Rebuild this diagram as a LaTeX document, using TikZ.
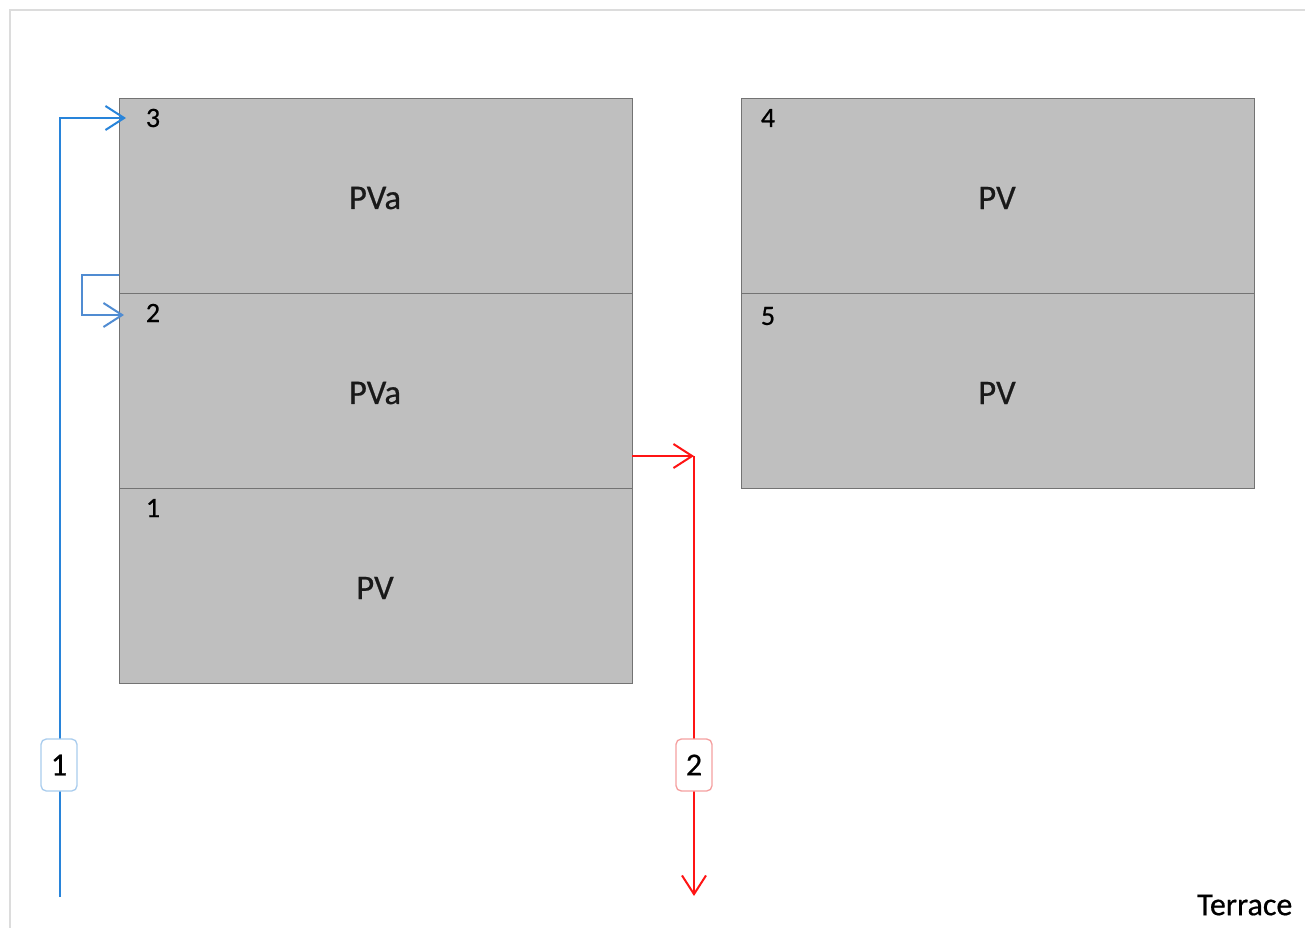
\documentclass[tikz,border=0pt]{standalone}
\usepackage{fontspec}
\setmainfont{Carlito}[FakeBold=0.6]
\usetikzlibrary{arrows.meta,calc}
\definecolor{cellfill}{RGB}{191,191,191}
\definecolor{cellline}{RGB}{115,115,115}
\definecolor{flowblue}{RGB}{40,132,218}
\definecolor{flowblue2}{RGB}{80,140,210}
\definecolor{lblblue}{RGB}{170,205,238}
\definecolor{flowred}{RGB}{255,20,20}
\definecolor{lblred}{RGB}{245,160,160}
\definecolor{framegray}{RGB}{220,220,220}
\tikzset{
  cell/.style={draw=cellline, line width=1pt, fill=cellfill, minimum width=513*0.75pt, minimum height=195*0.75pt, inner sep=0pt, anchor=north west},
  cellnum/.style={font=\fontsize{21}{25}\selectfont, text=black, anchor=center},
  celltext/.style={font=\fontsize{26}{30}\selectfont, text=black!90},
  tip/.style={-{Straight Barb[length=14pt,width=18pt,line width=1.5pt]}},
  bluearrow/.style={draw=flowblue, line width=1.7pt},
  bluearrow2/.style={draw=flowblue2, line width=1.4pt},
  redarrow/.style={draw=flowred, line width=1.6pt},
  flowlabel/.style={fill=white, rounded corners=4pt, line width=1pt, minimum width=36*0.75pt, minimum height=52*0.75pt, inner sep=0pt, font=\fontsize{24}{28}\selectfont},
}
\begin{document}
\begin{tikzpicture}[x=0.75pt,y=-0.75pt]
\useasboundingbox (0,0) rectangle (1307,928);
\fill[white] (0,0) rectangle (1307,928);
\draw[framegray, line width=1.5pt] (10,928) -- (10,10) -- (1305,10);
% left column
\node[cell] (c3) at (119,98) {};
\node[cell] (c2) at (119,293) {};
\node[cell] (c1) at (119,488) {};
% right column
\node[cell] (c4) at (741,98) {};
\node[cell] (c5) at (741,293) {};
% numbers
\node[cellnum] (n3) at (153,118) {3};
\node[cellnum] (n2) at (153,313) {2};
\node[cellnum] (n1) at (153,508) {1};
\node[cellnum] (n4) at (768,118) {4};
\node[cellnum] (n5) at (768,316) {5};
% labels
\node[celltext] (t3) at (375,198) {PVa};
\node[celltext] (t2) at (375,393) {PVa};
\node[celltext] (t1) at (375,588) {PV};
\node[celltext] (t4) at (997,198) {PV};
\node[celltext] (t5) at (997,393) {PV};
% blue flow 1
\coordinate (bstart) at (60,897);
\coordinate (bend) at (126,118);
\draw[bluearrow, tip] (bstart) |- (bend);
\node[flowlabel, draw=lblblue] (l1) at (59,765) {1};
% blue flow 2
\coordinate (b2start) at (119,275);
\coordinate (b2mid) at (82,275);
\coordinate (b2end) at (124,315);
\draw[bluearrow2, tip] (b2start) -- (b2mid) |- (b2end);
% red flow
\coordinate (rstart) at (632,456);
\coordinate (rcorner) at (694,456);
\coordinate (rend) at (694,896);
\draw[redarrow, tip] (rstart) -- (rcorner);
\draw[redarrow, tip] (rcorner) -- (rend);
\node[flowlabel, draw=lblred] (l2) at (694,765) {2};
% terrace
\node[font=\fontsize{24}{28}\selectfont, anchor=east] (terrace) at (1297,905) {Terrace};
\end{tikzpicture}
\end{document}
